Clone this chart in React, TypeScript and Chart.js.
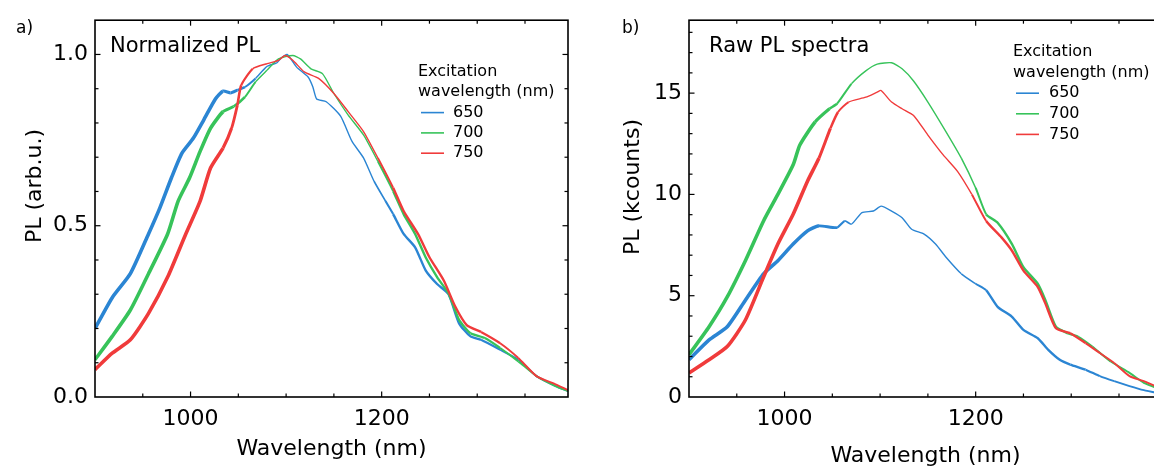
import React, { useEffect, useRef } from "react";
import { Chart, registerables } from "chart.js";

Chart.register(...registerables);

const FONT = "'DejaVu Sans', sans-serif";

// ---------- labels / ticks ----------
const EXCITATION = ["650", "700", "750"];
const COLORS = ["#2b85d3", "#37c35a", "#f03b3b"];

const WL_MIN = 900;
const WL_MAX = 1395;
const WL_TICKS = [1000, 1200];
const WL_MINOR_STEP = 50;

const NORM_MAX = 1.1;
const NORM_TICKS = [0, 0.5, 1.0];
const NORM_TICK_LABELS = ["0.0", "0.5", "1.0"];
const NORM_MINOR_STEP = 0.1;

const RAW_MAX = 18.6;
const RAW_TICKS = [0, 5, 10, 15];
const RAW_TICK_LABELS = ["0", "5", "10", "15"];
const RAW_MINOR_STEP = 1;

// ---------- panel a: normalized PL ----------
const NORM_WL_650 = [900, 918, 937, 956, 968, 980, 991, 1003, 1014, 1026, 1034, 1042, 1049, 1057, 1068, 1080, 1090, 1095, 1101, 1111, 1123, 1128, 1132, 1142, 1157, 1169, 1181, 1192, 1204, 1212, 1223, 1235, 1246, 1258, 1270, 1281, 1293, 1304, 1324, 1343, 1362, 1382, 1395];
const NORM_650 = [0.2, 0.29, 0.36, 0.476, 0.553, 0.64, 0.712, 0.756, 0.81, 0.87, 0.893, 0.888, 0.896, 0.905, 0.93, 0.965, 0.975, 0.99, 1.0, 0.963, 0.934, 0.905, 0.87, 0.862, 0.82, 0.746, 0.698, 0.63, 0.572, 0.534, 0.476, 0.437, 0.37, 0.33, 0.3, 0.215, 0.177, 0.167, 0.138, 0.109, 0.061, 0.032, 0.017];

const NORM_WL_700 = [900, 918, 937, 956, 976, 987, 999, 1010, 1021, 1034, 1045, 1057, 1068, 1080, 1092, 1107, 1115, 1126, 1138, 1150, 1165, 1181, 1196, 1212, 1223, 1235, 1246, 1258, 1270, 1281, 1293, 1308, 1324, 1343, 1362, 1382, 1395];
const NORM_700 = [0.109, 0.177, 0.254, 0.36, 0.476, 0.572, 0.64, 0.717, 0.785, 0.833, 0.848, 0.876, 0.92, 0.954, 0.987, 0.997, 0.987, 0.958, 0.944, 0.886, 0.823, 0.765, 0.688, 0.601, 0.534, 0.476, 0.408, 0.35, 0.302, 0.225, 0.186, 0.172, 0.143, 0.104, 0.061, 0.032, 0.017];

const NORM_WL_750 = [900, 918, 937, 956, 976, 995, 1010, 1021, 1034, 1043, 1049, 1053, 1065, 1080, 1092, 1099, 1107, 1119, 1134, 1150, 1165, 1181, 1196, 1212, 1223, 1238, 1250, 1265, 1277, 1289, 1304, 1324, 1343, 1362, 1382, 1395];
const NORM_750 = [0.08, 0.128, 0.167, 0.244, 0.35, 0.476, 0.572, 0.669, 0.727, 0.785, 0.852, 0.91, 0.958, 0.973, 0.983, 0.997, 0.983, 0.949, 0.93, 0.886, 0.833, 0.775, 0.698, 0.611, 0.543, 0.476, 0.408, 0.34, 0.264, 0.21, 0.19, 0.157, 0.114, 0.061, 0.037, 0.02];

// ---------- panel b: raw PL (kcounts) ----------
const RAW_WL_650 = [900, 921, 940, 959, 978, 993, 1009, 1024, 1036, 1055, 1063, 1070, 1081, 1093, 1101, 1112, 1123, 1133, 1146, 1158, 1169, 1185, 1200, 1211, 1223, 1238, 1250, 1265, 1276, 1288, 1299, 1315, 1330, 1345, 1361, 1376, 1395];
const RAW_650 = [1.84, 2.82, 3.47, 4.78, 6.08, 6.73, 7.55, 8.2, 8.45, 8.36, 8.69, 8.53, 9.1, 9.18, 9.42, 9.18, 8.85, 8.28, 8.04, 7.55, 6.9, 6.08, 5.59, 5.27, 4.45, 3.96, 3.31, 2.9, 2.33, 1.84, 1.6, 1.35, 1.03, 0.78, 0.54, 0.34, 0.15];

const RAW_WL_700 = [900, 921, 940, 959, 978, 993, 1009, 1016, 1032, 1047, 1055, 1070, 1085, 1097, 1112, 1123, 1135, 1150, 1169, 1185, 1200, 1211, 1223, 1238, 1250, 1265, 1273, 1284, 1296, 1307, 1322, 1341, 1361, 1376, 1395];
const RAW_700 = [2.09, 3.47, 4.94, 6.73, 8.69, 10.0, 11.46, 12.44, 13.58, 14.23, 14.48, 15.46, 16.1, 16.43, 16.5, 16.2, 15.6, 14.56, 13.09, 11.79, 10.32, 9.02, 8.6, 7.55, 6.41, 5.59, 4.78, 3.47, 3.15, 2.98, 2.49, 1.76, 1.19, 0.7, 0.35];

const RAW_WL_750 = [900, 921, 940, 959, 978, 993, 1009, 1024, 1036, 1048, 1056, 1067, 1085, 1097, 1101, 1112, 1123, 1135, 1150, 1166, 1181, 1196, 1211, 1227, 1238, 1250, 1265, 1273, 1284, 1299, 1315, 1330, 1345, 1361, 1376, 1395];
const RAW_750 = [1.19, 1.84, 2.49, 3.8, 5.92, 7.55, 9.02, 10.65, 11.79, 13.26, 14.07, 14.56, 14.8, 15.05, 15.13, 14.56, 14.23, 13.9, 12.93, 11.95, 11.14, 10.0, 8.69, 7.88, 7.22, 6.24, 5.43, 4.61, 3.39, 3.15, 2.66, 2.17, 1.68, 1.03, 0.78, 0.4];

// ---------- styling helpers ----------
// line thickness mimicking the detector noise band along the spectrum
function noiseWidth(x: number): number {
  const ramp = (x0: number, x1: number, w0: number, w1: number) =>
    w0 + ((w1 - w0) * (x - x0)) / (x1 - x0);
  if (x < 1030) return 3.6;
  if (x < 1075) return ramp(1030, 1075, 3.6, 1.4);
  if (x < 1190) return 1.4;
  if (x < 1215) return ramp(1190, 1215, 1.4, 2.4);
  if (x < 1300) return 2.4;
  if (x < 1340) return ramp(1300, 1340, 2.4, 1.9);
  return 1.9;
}

const framePlugin = {
  id: "frame",
  afterDraw(chart: any, _args: any, o: any) {
    const { ctx, chartArea: a, scales } = chart;
    const xs = scales.x;
    const ys = scales.y;
    ctx.save();
    ctx.strokeStyle = "#000";
    ctx.lineCap = "butt";
    ctx.lineWidth = 1.2;
    const seg = (x1: number, y1: number, x2: number, y2: number) => {
      ctx.beginPath();
      ctx.moveTo(x1, y1);
      ctx.lineTo(x2, y2);
      ctx.stroke();
    };
    const x0 = Math.ceil(xs.min / o.xStep);
    const x1 = Math.floor(xs.max / o.xStep);
    for (let k = x0; k <= x1; k++) {
      const v = k * o.xStep;
      if (v <= xs.min || v >= xs.max) continue;
      const px = xs.getPixelForValue(v);
      const len = WL_TICKS.includes(v) ? 5.5 : 3.5;
      seg(px, a.bottom, px, a.bottom - len);
      seg(px, a.top, px, a.top + len);
    }
    const y1 = Math.floor(ys.max / o.yStep + 1e-6);
    for (let k = 1; k <= y1; k++) {
      const v = k * o.yStep;
      if (v >= ys.max) continue;
      const py = ys.getPixelForValue(v);
      const major = o.yTicks.some((t: number) => Math.abs(t - v) < 1e-6);
      const len = major ? 5.5 : 3.5;
      seg(a.left, py, a.left + len, py);
      seg(a.right, py, a.right - len, py);
    }
    ctx.lineWidth = 1.6;
    ctx.strokeRect(a.left, a.top, a.right - a.left, a.bottom - a.top);

    ctx.fillStyle = "#000";
    ctx.textAlign = "left";
    ctx.textBaseline = "alphabetic";
    ctx.font = `17px ${FONT}`;
    ctx.fillText(o.letter, o.letterX, o.letterY);
    ctx.font = `21px ${FONT}`;
    ctx.fillText(o.title, o.titleX, o.titleY);

    ctx.font = `22px ${FONT}`;
    ctx.textAlign = "center";
    ctx.fillText(o.xTitle, (a.left + a.right) / 2, o.xTitleY);

    ctx.save();
    ctx.translate(o.yTitleX, o.yTitleY);
    ctx.rotate(-Math.PI / 2);
    ctx.textBaseline = "middle";
    ctx.fillText(o.yTitle, 0, 0);
    ctx.restore();

    ctx.font = `16px ${FONT}`;
    ctx.textAlign = "left";
    ctx.textBaseline = "middle";
    const L = o.legend;
    ctx.fillText("Excitation", L.x, L.y);
    ctx.fillText("wavelength (nm)", L.x, L.y + L.step);
    chart.data.datasets.forEach((ds: any, i: number) => {
      const yy = L.y + L.step * (2 + i);
      ctx.strokeStyle = ds.borderColor;
      ctx.lineWidth = 1.6;
      seg(L.lineX1, yy, L.lineX2, yy);
      ctx.fillStyle = "#000";
      ctx.fillText(ds.label, L.textX, yy);
    });
    ctx.restore();
  },
};

type PanelSpec = {
  series: { wl: number[]; pl: number[] }[];
  yMax: number;
  yTicks: number[];
  yLabels: string[];
  yStep: number;
  yWidth: number;
  top: number;
  right: number;
  frame: any;
};

function buildConfig(p: PanelSpec): any {
  return {
    type: "line",
    data: {
      datasets: p.series.map((s, i) => ({
        label: EXCITATION[i],
        data: s.wl.map((w, k) => ({ x: w, y: s.pl[k] })),
        borderColor: COLORS[i],
        backgroundColor: COLORS[i],
        borderWidth: 1.4,
        pointRadius: 0,
        tension: 0.2,
        fill: false,
        order: 3 - i,
        segment: {
          borderWidth: (c: any) => noiseWidth((c.p0.parsed.x + c.p1.parsed.x) / 2),
        },
      })),
    },
    options: {
      responsive: false,
      animation: false,
      devicePixelRatio: 1,
      events: [],
      layout: { padding: { top: p.top, right: p.right, bottom: 0, left: 0 } },
      plugins: {
        legend: { display: false },
        tooltip: { enabled: false },
        frame: { ...p.frame, xStep: WL_MINOR_STEP, yStep: p.yStep, yTicks: p.yTicks },
      },
      scales: {
        x: {
          type: "linear",
          min: WL_MIN,
          max: WL_MAX,
          grid: { display: false, drawTicks: false },
          border: { display: false },
          ticks: {
            autoSkip: false,
            maxRotation: 0,
            padding: 9,
            color: "#000",
            font: { family: FONT, size: 22 },
            callback: (_v: any, idx: number) => String(WL_TICKS[idx]),
          },
          afterBuildTicks: (s: any) => {
            s.ticks = WL_TICKS.map((v) => ({ value: v }));
          },
          afterFit: (s: any) => {
            s.height = 69;
          },
        },
        y: {
          type: "linear",
          min: 0,
          max: p.yMax,
          grid: { display: false, drawTicks: false },
          border: { display: false },
          ticks: {
            autoSkip: false,
            padding: 7,
            color: "#000",
            font: { family: FONT, size: 22 },
            callback: (_v: any, idx: number) => p.yLabels[idx],
          },
          afterBuildTicks: (s: any) => {
            s.ticks = p.yTicks.map((v) => ({ value: v }));
          },
          afterFit: (s: any) => {
            s.width = p.yWidth;
          },
        },
      },
    },
    plugins: [framePlugin],
  };
}

function Panel({ left, width, spec }: { left: number; width: number; spec: PanelSpec }) {
  const ref = useRef<HTMLCanvasElement>(null);
  useEffect(() => {
    const chart = new Chart(ref.current as HTMLCanvasElement, buildConfig(spec));
    return () => chart.destroy();
  }, []);
  return (
    <canvas
      ref={ref}
      width={width}
      height={466}
      style={{ position: "absolute", left, top: 0, width, height: 466 }}
    />
  );
}

const SPEC_A: PanelSpec = {
  series: [
    { wl: NORM_WL_650, pl: NORM_650 },
    { wl: NORM_WL_700, pl: NORM_700 },
    { wl: NORM_WL_750, pl: NORM_750 },
  ],
  yMax: NORM_MAX,
  yTicks: NORM_TICKS,
  yLabels: NORM_TICK_LABELS,
  yStep: NORM_MINOR_STEP,
  yWidth: 95,
  top: 17,
  right: 12,
  frame: {
    letter: "a)",
    letterX: 16,
    letterY: 33,
    title: "Normalized PL",
    titleX: 110,
    titleY: 52,
    xTitle: "Wavelength (nm)",
    xTitleY: 455,
    yTitle: "PL (arb.u.)",
    yTitleX: 35,
    yTitleY: 186,
    legend: { x: 418, y: 72, step: 20.3, lineX1: 421, lineX2: 444, textX: 453 },
  },
};

const SPEC_B: PanelSpec = {
  series: [
    { wl: RAW_WL_650, pl: RAW_650 },
    { wl: RAW_WL_700, pl: RAW_700 },
    { wl: RAW_WL_750, pl: RAW_750 },
  ],
  yMax: RAW_MAX,
  yTicks: RAW_TICKS,
  yLabels: RAW_TICK_LABELS,
  yStep: RAW_MINOR_STEP,
  yWidth: 89,
  top: 18,
  right: 38,
  frame: {
    letter: "b)",
    letterX: 22,
    letterY: 33,
    title: "Raw PL spectra",
    titleX: 109,
    titleY: 52,
    xTitle: "Wavelength (nm)",
    xTitleY: 462,
    yTitle: "PL (kcounts)",
    yTitleX: 33,
    yTitleY: 187,
    legend: { x: 413, y: 52, step: 20.6, lineX1: 416, lineX2: 439, textX: 449 },
  },
};

export default function App() {
  return (
    <div
      style={{
        position: "fixed",
        left: 0,
        top: 0,
        width: 1154,
        height: 466,
        overflow: "hidden",
        background: "#fff",
      }}
    >
      <Panel left={0} width={580} spec={SPEC_A} />
      <Panel left={600} width={600} spec={SPEC_B} />
    </div>
  );
}
